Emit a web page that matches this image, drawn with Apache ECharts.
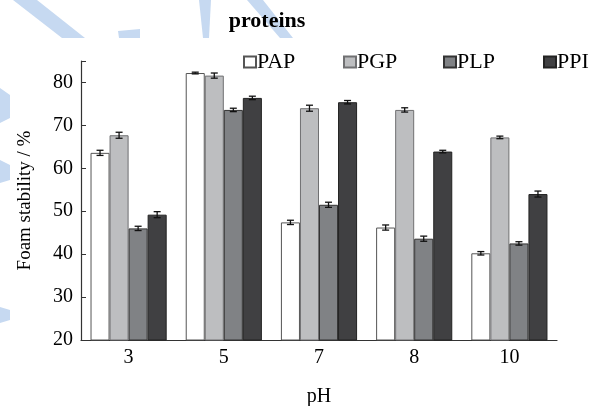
<!DOCTYPE html>
<html lang="en" style="height: 100%">
<head>
  <meta charset="utf-8">
</head>
<body style="height: 100%; margin: 0; background: #fff">
<div id="container" style="width: 600px; height: 406px"></div>

<script type="text/javascript" src="https://cdn.jsdelivr.net/npm/echarts@6/dist/echarts.min.js"></script>

<script type="text/javascript">
  var categories = ['3', '5', '7', '8', '10'];
  var seriesNames = ['PAP', 'PGP', 'PLP', 'PPI'];
  var PAP = [63.6, 82.2, 47.4, 46.2, 40.2];
  var PGP = [67.7, 81.6, 74.0, 73.6, 67.2];
  var PLP = [46.0, 73.6, 51.5, 43.6, 42.5];
  var PPI = [49.2, 76.4, 75.4, 63.9, 54.0];
  var PAP_err = [0.6, 0.2, 0.5, 0.6, 0.4];
  var PGP_err = [0.7, 0.6, 0.7, 0.5, 0.3];
  var PLP_err = [0.5, 0.4, 0.6, 0.6, 0.4];
  var PPI_err = [0.7, 0.4, 0.4, 0.3, 0.7];

  var values = [PAP, PGP, PLP, PPI];
  var errors = [PAP_err, PGP_err, PLP_err, PPI_err];
  var fills = ['#ffffff', '#bdbec0', '#808285', '#404042'];
  var borders = ['#555555', '#707072', '#333333', '#222222'];
  var serif = '"Liberation Serif", "DejaVu Serif", serif';
  var wm = '#c6d9f1';

  var dom = document.getElementById('container');
  var myChart = echarts.init(dom, null, { renderer: 'canvas' });

  // error bar drawn at the centre of bar number idx inside each category
  function errRenderer(idx) {
    return function (params, api) {
      var x = api.value(0), y = api.value(1), e = api.value(2);
      var cw = api.size([1, 0])[0];
      var cx = api.coord([x, y])[0] + (idx - 1.5) * 0.2 * cw;
      var hi = api.coord([x, y + e])[1];
      var lo = api.coord([x, y - e])[1];
      var st = { stroke: '#111', lineWidth: 1.3 };
      return {
        type: 'group',
        children: [
          { type: 'line', shape: { x1: cx, y1: hi, x2: cx, y2: lo }, style: st },
          { type: 'line', shape: { x1: cx - 3.5, y1: hi, x2: cx + 3.5, y2: hi }, style: st },
          { type: 'line', shape: { x1: cx - 3.5, y1: lo, x2: cx + 3.5, y2: lo }, style: st }
        ]
      };
    };
  }

  var series = [];
  seriesNames.forEach(function (name, i) {
    series.push({
      name: name,
      type: 'bar',
      data: values[i],
      barGap: '0%',
      barCategoryGap: '20%',
      itemStyle: { color: fills[i], borderColor: borders[i], borderWidth: 1 }
    });
  });
  seriesNames.forEach(function (name, i) {
    series.push({
      type: 'custom',
      renderItem: errRenderer(i),
      encode: { x: 0, y: 1 },
      data: values[i].map(function (v, j) { return [j, v, errors[i][j]]; }),
      z: 10,
      silent: true
    });
  });

  // one legend per series so the items sit 100px apart
  var legends = seriesNames.map(function (name, i) {
    return {
      data: [name],
      left: 243 + i * 100,
      top: 51,
      padding: 0,
      itemWidth: 12,
      itemHeight: 11,
      itemGap: 0,
      icon: 'rect',
      textStyle: { fontFamily: serif, fontSize: 22, color: '#000', padding: [0, 0, 0, -4] }
    };
  });

  var option = {
    animation: false,
    title: {
      text: 'proteins',
      left: 262,
      top: 5,
      textAlign: 'center',
      textStyle: { fontFamily: serif, fontWeight: 'bold', fontSize: 22, color: '#000' }
    },
    graphic: [
      { type: 'polygon', shape: { points: [[13, 0], [37, 0], [85, 38], [62, 38]] }, style: { fill: wm }, z: -10 },
      { type: 'polygon', shape: { points: [[118, 31], [140, 29], [140, 38], [119, 38]] }, style: { fill: wm }, z: -10 },
      { type: 'polygon', shape: { points: [[199, 0], [211, 0], [209, 38], [203, 38]] }, style: { fill: wm }, z: -10 },
      { type: 'polygon', shape: { points: [[247, 0], [263, 0], [293, 38], [280, 38]] }, style: { fill: wm }, z: -10 },
      { type: 'polygon', shape: { points: [[0, 88], [10, 95], [10, 118], [0, 123]] }, style: { fill: wm }, z: -10 },
      { type: 'polygon', shape: { points: [[0, 160], [10, 165], [10, 180], [0, 183]] }, style: { fill: wm }, z: -10 },
      { type: 'polygon', shape: { points: [[0, 307], [10, 310], [10, 320], [0, 323]] }, style: { fill: wm }, z: -10 }
    ],
    legend: legends,
    grid: { left: 81, right: 43, top: 61, bottom: 66, containLabel: false, outerBoundsMode: 'none' },
    xAxis: {
      type: 'category',
      data: categories,
      name: 'pH',
      nameLocation: 'middle',
      nameGap: 47,
      nameTextStyle: { fontFamily: serif, fontSize: 20, color: '#000' },
      axisLine: { lineStyle: { color: '#333', width: 1.2 } },
      axisTick: { inside: true, alignWithLabel: true, length: 5, lineStyle: { color: '#333' } },
      axisLabel: { fontFamily: serif, fontSize: 20, color: '#000', margin: 8 }
    },
    yAxis: {
      type: 'value',
      min: 20,
      max: 85,
      interval: 10,
      name: 'Foam stability / %',
      nameLocation: 'middle',
      nameGap: 46,
      nameTextStyle: { fontFamily: serif, fontSize: 19, color: '#000' },
      axisLine: { show: true, lineStyle: { color: '#333', width: 1.2 } },
      axisTick: { show: true, inside: true, length: 5, lineStyle: { color: '#333' } },
      splitLine: { show: false },
      axisLabel: {
        fontFamily: serif, fontSize: 20, color: '#000', margin: 8,
        formatter: function (v) { return v % 10 === 0 ? v : ''; }
      }
    },
    series: series
  };

  myChart.setOption(option);
  window.addEventListener('resize', myChart.resize);
</script>
</body>
</html>
